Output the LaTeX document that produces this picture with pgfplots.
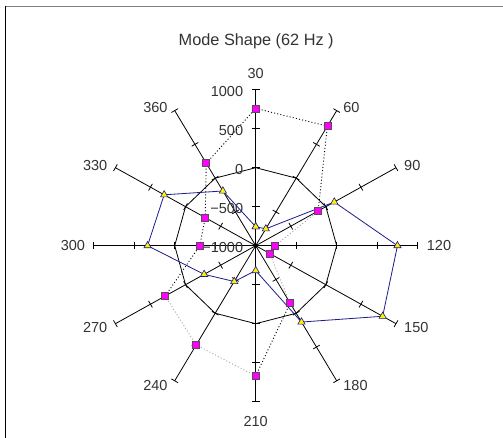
\documentclass[border=0pt]{standalone}
\usepackage{pgfplots}
\pgfplotsset{compat=1.18}
\usepackage{pgfplotstable}
\usepackage{fontspec}
\setmainfont{Liberation Sans}
\definecolor{txt}{HTML}{333333}
\definecolor{navyline}{HTML}{1C1C8C}
\definecolor{sqfill}{HTML}{FF00FF}
\definecolor{sqdraw}{HTML}{5A4A5A}
\tikzset{lab/.style={text=txt, font=\fontsize{14.5}{17}\selectfont, inner sep=0pt}}

% angle label a, value v  (radial axis -1000 at centre, 1000 at rim)
\pgfplotstableread{
a v
270 290
300 -310
330 -280
360 220
390 760
420 770
450 -110
}\sqblackA
\pgfplotstableread{
a v
90 -110
120 -760
150 -800
180 -150
}\sqgrayA
\pgfplotstableread{
a v
180 -150
210 670
}\sqblackB
\pgfplotstableread{
a v
210 670
240 470
270 290
}\sqgrayB
\pgfplotstableread{
a v
30 760
60 770
90 -110
120 -760
150 -800
180 -150
210 670
240 470
270 290
300 -310
330 -280
360 220
}\sqpts
\pgfplotstableread{
a v
30 -757
60 -750
90 120
120 750
150 810
180 130
210 -680
240 -470
270 -265
300 335
330 305
360 -190
390 -757
}\tripts

\pgfplotsset{table/polar/.style={x expr={(\thisrow{v}+1000)/2000*cos(120-\thisrow{a})},
                           y expr={(\thisrow{v}+1000)/2000*sin(120-\thisrow{a})}}}

\begin{document}
\begin{tikzpicture}
\useasboundingbox (0,0) rectangle (503pt,438pt);
\fill[white] (0,0) rectangle (503pt,438pt);
\draw[gray, line width=1.5pt] (5pt,431.5pt) -- (503pt,431.5pt);
\draw[black, line width=1pt] (5pt,431.5pt) -- (5pt,0pt);
\node[text=txt, font=\fontsize{16.3}{19}\selectfont] at (256.2pt,397pt) {Mode Shape (62 Hz )};

\begin{axis}[at={(255.7pt,192.3pt)}, anchor=origin,
  width=324pt, height=312pt, scale only axis,
  xmin=-1, xmax=1, ymin=-1, ymax=1,
  axis lines=none, clip=false]
\pgfplotsextra{
  \foreach \a in {30,60,...,360} {
    \pgfmathsetmacro\t{120-\a}
    \draw[black, line width=0.8pt] (axis cs:0,0) -- (axis cs:{cos(\t)},{sin(\t)});
    \foreach \r in {0.25,0.5,0.75,1} {
      \draw[black, line width=0.8pt] (axis cs:{\r*cos(\t)},{\r*sin(\t)}) ++(\t+90:3.8pt) -- ++(\t-90:7.6pt);
    }
  }
  \draw[black, line width=0.8pt] (axis cs:0.5,0) \foreach \t in {30,60,...,330} { -- (axis cs:{0.5*cos(\t)},{0.5*sin(\t)}) } -- cycle;
  \fill[black] (axis cs:0,0) circle (2pt);
  % spoke labels
  \node[lab, anchor=south] at (axis cs:0,1) [yshift=11pt] {30};
  \node[lab, anchor=west] at (axis cs:{cos(60)},{sin(60)}) [xshift=6.5pt,yshift=3pt] {60};
  \node[lab, anchor=west] at (axis cs:{cos(30)},{sin(30)}) [xshift=8pt,yshift=2pt] {90};
  \node[lab, anchor=west] at (axis cs:1,0) [xshift=9pt] {120};
  \node[lab, anchor=west] at (axis cs:{cos(-30)},{sin(-30)}) [xshift=8pt,yshift=-3.5pt] {150};
  \node[lab, anchor=west] at (axis cs:{cos(-60)},{sin(-60)}) [xshift=6.5pt,yshift=-5pt] {180};
  \node[lab, anchor=north] at (axis cs:0,-1) [yshift=-14pt] {210};
  \node[lab, anchor=east] at (axis cs:{cos(-120)},{sin(-120)}) [xshift=-7pt,yshift=-5pt] {240};
  \node[lab, anchor=east] at (axis cs:{cos(-150)},{sin(-150)}) [xshift=-8pt,yshift=-3.5pt] {270};
  \node[lab, anchor=east] at (axis cs:-1,0) [xshift=-8.5pt] {300};
  \node[lab, anchor=east] at (axis cs:{cos(150)},{sin(150)}) [xshift=-8pt,yshift=2pt] {330};
  \node[lab, anchor=east] at (axis cs:{cos(120)},{sin(120)}) [xshift=-7pt,yshift=3pt] {360};
  % radial labels
  \node[lab, anchor=east] at (axis cs:0,1) [xshift=-12.4pt,yshift=-1.5pt] {1000};
  \node[lab, anchor=east] at (axis cs:0,0.75) [xshift=-12.4pt,yshift=-1.5pt] {500};
  \node[lab, anchor=east] at (axis cs:0,0.5) [xshift=-12.4pt,yshift=-1.5pt] {0};
  \node[lab, anchor=east] at (axis cs:0,0.25) [xshift=-12.4pt,yshift=-1.5pt] {−500};
  \node[lab, anchor=east] at (axis cs:0,0) [xshift=-12.4pt,yshift=-1.5pt] {−1000};
}
\addplot[black, line width=0.9pt, dash pattern=on 1pt off 2.2pt, no marks] table[polar] {\sqblackA};
\addplot[black, line width=0.9pt, dash pattern=on 1pt off 2.2pt, no marks] table[polar] {\sqblackB};
\addplot[gray!70, line width=0.9pt, dash pattern=on 1pt off 2.2pt, no marks] table[polar] {\sqgrayA};
\addplot[gray!70, line width=0.9pt, dash pattern=on 1pt off 2.2pt, no marks] table[polar] {\sqgrayB};
\addplot[navyline, line width=0.8pt, mark=triangle*, mark size=4.2pt,
  mark options={fill=yellow, draw=navyline, line width=0.6pt}] table[polar] {\tripts};
\addplot[only marks, mark=square*, mark size=3.5pt,
  mark options={fill=sqfill, draw=sqdraw, line width=0.7pt}] table[polar] {\sqpts};
\end{axis}
\end{tikzpicture}
\end{document}
